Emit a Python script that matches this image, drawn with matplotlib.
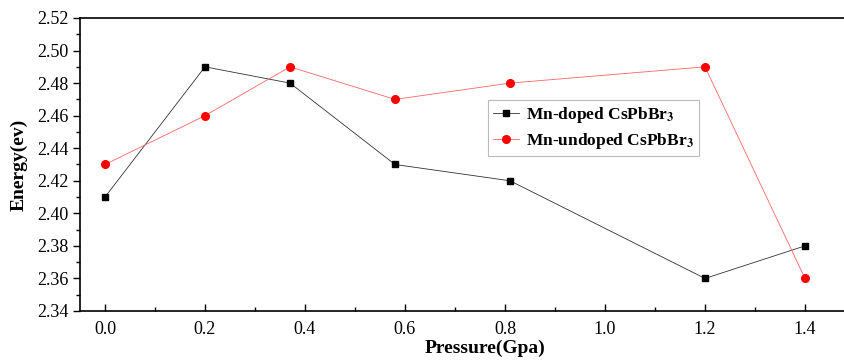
import matplotlib.pyplot as plt
from matplotlib.ticker import MultipleLocator

plt.rcParams['font.family'] = ['Liberation Serif', 'DejaVu Serif']
plt.rcParams['mathtext.fontset'] = 'stix'

pressure_doped = [0.0, 0.2, 0.37, 0.58, 0.81, 1.2, 1.4]
energy_doped = [2.41, 2.49, 2.48, 2.43, 2.42, 2.36, 2.38]
pressure_undoped = [0.0, 0.2, 0.37, 0.58, 0.81, 1.2, 1.4]
energy_undoped = [2.43, 2.46, 2.49, 2.47, 2.48, 2.49, 2.36]

fig = plt.figure(figsize=(8.45, 3.61), dpi=100)
ax = fig.add_axes([80 / 845, 1 - 311 / 361, 775 / 845, 293 / 361])

ax.plot(pressure_doped, energy_doped, color='#333333', lw=0.6, marker='s',
        ms=5, mfc='black', mec='black', label=r'Mn-doped CsPbBr$_\mathbf{3}$')
ax.plot(pressure_undoped, energy_undoped, color='#ff6666', lw=0.6, marker='o',
        ms=5.5, mfc='red', mec='red', label=r'Mn-undoped CsPbBr$_\mathbf{3}$')

ax.set_xlim(-0.05, 1.5)
ax.set_ylim(2.34, 2.52)
ax.xaxis.set_major_locator(MultipleLocator(0.2))
ax.xaxis.set_minor_locator(MultipleLocator(0.1))
ax.yaxis.set_major_locator(MultipleLocator(0.02))
ax.yaxis.set_minor_locator(MultipleLocator(0.01))
ax.xaxis.set_major_formatter(plt.FormatStrFormatter('%.1f'))
ax.yaxis.set_major_formatter(plt.FormatStrFormatter('%.2f'))
ax.tick_params(axis='x', which='both', direction='in', labelsize=13, pad=7)
ax.tick_params(axis='y', which='both', direction='out', labelsize=13)
ax.tick_params(which='major', length=5, width=1)
ax.tick_params(which='minor', length=3, width=1)
for s in ax.spines.values():
    s.set_linewidth(1.2)

ax.set_xlabel('Pressure(Gpa)', fontsize=14, fontweight='bold')
ax.set_ylabel('Energy(ev)', fontsize=14, fontweight='bold')
ax.xaxis.set_label_coords((485 - 80) / 775, -0.098)
ax.yaxis.set_label_coords(-0.068, 0.5)

leg = ax.legend(loc='upper left', bbox_to_anchor=((488 - 80) / 775, 1 - (100 - 18) / 293),
                prop={'weight': 'bold', 'size': 12.5}, frameon=True, fancybox=False,
                handlelength=1.5, borderpad=0.3, labelspacing=0.35, handletextpad=0.4,
                borderaxespad=0)
leg.get_frame().set_edgecolor('#aaaaaa')
leg.get_frame().set_linewidth(0.8)

fig.savefig('out.png', dpi=100)
